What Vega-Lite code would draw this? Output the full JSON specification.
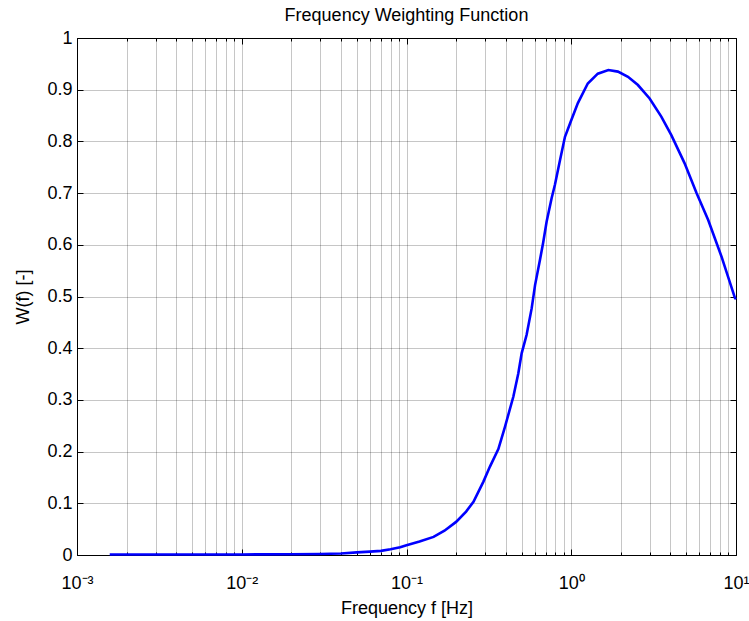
{
  "$schema": "https://vega.github.io/schema/vega-lite/v6.json",
  "width": 659,
  "height": 517,
  "autosize": {"type": "none"},
  "padding": {"left": 77, "top": 38, "right": 13, "bottom": 66},
  "background": "white",
  "config": {
    "font": "Liberation Sans",
    "view": {"stroke": "#000", "strokeWidth": 1},
    "axis": {
      "domain": false,
      "gridColor": "#000",
      "gridOpacity": 0.45,
      "gridDash": [1, 1],
      "tickColor": "#000",
      "labelColor": "#000",
      "titleColor": "#000",
      "labelFontSize": 18,
      "titleFontSize": 18,
      "titleFontWeight": "normal",
      "labelFont": "Liberation Sans",
      "titleFont": "Liberation Sans",
      "labelFlush": false
    }
  },
  "title": {"text": "Frequency Weighting Function", "fontSize": 18, "fontWeight": "normal", "font": "Liberation Sans", "color": "#000", "offset": 4},
  "data": {
    "values": [
      {"f": 0.00158, "w": 0.001},
      {"f": 0.003, "w": 0.001},
      {"f": 0.005, "w": 0.001},
      {"f": 0.01, "w": 0.001},
      {"f": 0.02, "w": 0.0015},
      {"f": 0.03, "w": 0.002},
      {"f": 0.04, "w": 0.003},
      {"f": 0.05, "w": 0.005},
      {"f": 0.06, "w": 0.0065},
      {"f": 0.07, "w": 0.008},
      {"f": 0.08, "w": 0.011},
      {"f": 0.0915, "w": 0.015},
      {"f": 0.1, "w": 0.019},
      {"f": 0.12, "w": 0.026},
      {"f": 0.146, "w": 0.035},
      {"f": 0.17, "w": 0.047},
      {"f": 0.2, "w": 0.064},
      {"f": 0.23, "w": 0.084},
      {"f": 0.255, "w": 0.103},
      {"f": 0.293, "w": 0.142},
      {"f": 0.321, "w": 0.171},
      {"f": 0.361, "w": 0.205},
      {"f": 0.396, "w": 0.248},
      {"f": 0.445, "w": 0.306},
      {"f": 0.477, "w": 0.351},
      {"f": 0.5, "w": 0.39},
      {"f": 0.536, "w": 0.426},
      {"f": 0.575, "w": 0.477},
      {"f": 0.603, "w": 0.522},
      {"f": 0.646, "w": 0.571},
      {"f": 0.676, "w": 0.605},
      {"f": 0.709, "w": 0.645},
      {"f": 0.76, "w": 0.69},
      {"f": 0.796, "w": 0.716},
      {"f": 0.855, "w": 0.764},
      {"f": 0.916, "w": 0.809},
      {"f": 1.0, "w": 0.841},
      {"f": 1.097, "w": 0.874},
      {"f": 1.26, "w": 0.912},
      {"f": 1.45, "w": 0.931},
      {"f": 1.68, "w": 0.938},
      {"f": 1.92, "w": 0.935},
      {"f": 2.21, "w": 0.925},
      {"f": 2.54, "w": 0.909},
      {"f": 2.99, "w": 0.883},
      {"f": 3.52, "w": 0.848},
      {"f": 4.05, "w": 0.812},
      {"f": 4.87, "w": 0.758},
      {"f": 5.76, "w": 0.7},
      {"f": 6.78, "w": 0.648},
      {"f": 8.17, "w": 0.577},
      {"f": 9.86, "w": 0.497},
      {"f": 10, "w": 0.495}
    ]
  },
  "layer": [
    {
      "mark": {"type": "line", "opacity": 0},
      "encoding": {
        "x": {"field": "f", "type": "quantitative", "scale": {"type": "log", "domain": [0.001, 10], "nice": false},
          "axis": {"orient": "top", "values": [0.001, 0.01, 0.1, 1, 10], "labels": false, "offset": -6, "tickSize": 6, "grid": false, "title": null}},
        "y": {"field": "w", "type": "quantitative", "scale": {"domain": [0, 1], "nice": false, "zero": false},
          "axis": {"orient": "right", "values": [0, 0.1, 0.2, 0.3, 0.4, 0.5, 0.6, 0.7, 0.8, 0.9, 1], "labels": false, "offset": -6, "tickSize": 6, "grid": false, "title": null}}
      }
    },
    {
      "mark": {"type": "line", "opacity": 0},
      "encoding": {
        "x": {"field": "f", "type": "quantitative", "scale": {"type": "log", "domain": [0.001, 10], "nice": false},
          "axis": {"orient": "top", "values": [0.002, 0.003, 0.004, 0.005, 0.006, 0.007, 0.008, 0.009, 0.02, 0.03, 0.04, 0.05, 0.06, 0.07, 0.08, 0.09, 0.2, 0.3, 0.4, 0.5, 0.6, 0.7, 0.8, 0.9, 2, 3, 4, 5, 6, 7, 8, 9], "labels": false, "offset": -3, "tickSize": 3, "grid": false, "title": null}},
        "y": {"field": "w", "type": "quantitative", "scale": {"domain": [0, 1], "nice": false, "zero": false}, "axis": null}
      }
    },
    {
      "mark": {"type": "line", "opacity": 0},
      "encoding": {
        "x": {"field": "f", "type": "quantitative", "scale": {"type": "log", "domain": [0.001, 10], "nice": false},
          "axis": {"orient": "bottom", "values": [0.002, 0.003, 0.004, 0.005, 0.006, 0.007, 0.008, 0.009, 0.02, 0.03, 0.04, 0.05, 0.06, 0.07, 0.08, 0.09, 0.2, 0.3, 0.4, 0.5, 0.6, 0.7, 0.8, 0.9, 2, 3, 4, 5, 6, 7, 8, 9], "labels": false, "offset": -3, "tickSize": 3, "grid": true, "title": null}},
        "y": {"field": "w", "type": "quantitative", "scale": {"domain": [0, 1], "nice": false, "zero": false}, "axis": null}
      }
    },
    {
      "mark": {"type": "line", "color": "#0000ff", "strokeWidth": 2.6},
      "encoding": {
        "x": {"field": "f", "type": "quantitative", "scale": {"type": "log", "domain": [0.001, 10], "nice": false},
          "axis": {"orient": "bottom", "values": [0.001, 0.01, 0.1, 1, 10], "offset": -6, "tickSize": 6, "grid": true, "labelPadding": 19, "title": "Frequency f [Hz]", "titlePadding": 7,
            "labelExpr": "datum.value < 0.005 ? '10⁻³' : datum.value < 0.05 ? '10⁻²' : datum.value < 0.5 ? '10⁻¹' : datum.value < 5 ? '10⁰' : '10¹'"}},
        "y": {"field": "w", "type": "quantitative", "scale": {"domain": [0, 1], "nice": false, "zero": false},
          "axis": {"orient": "left", "values": [0, 0.1, 0.2, 0.3, 0.4, 0.5, 0.6, 0.7, 0.8, 0.9, 1], "format": "~g", "offset": -6, "tickSize": 6, "grid": true, "labelPadding": 5, "title": "W(f) [-]", "titlePadding": 14}}
      }
    }
  ],
  "resolve": {"axis": {"x": "independent", "y": "independent"}}
}
